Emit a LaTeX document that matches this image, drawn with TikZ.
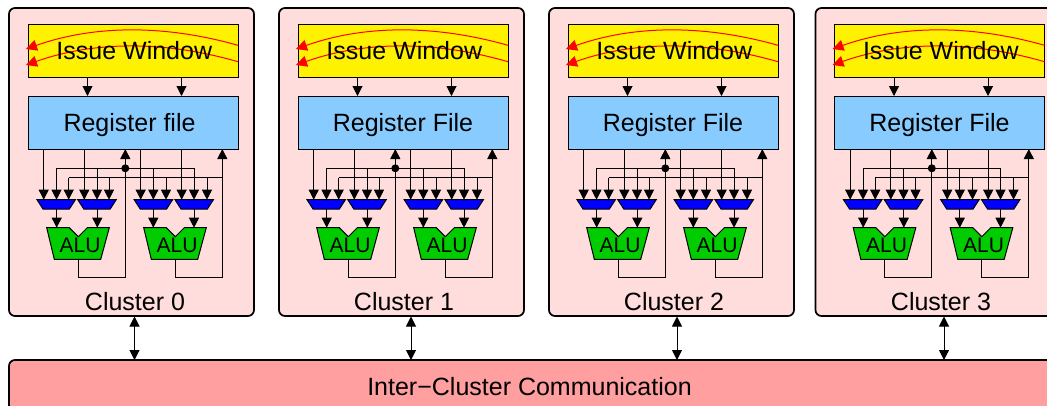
\documentclass[tikz,border=0pt]{standalone}
\usepackage{fontspec}
\setmainfont{Liberation Sans}
\usetikzlibrary{arrows.meta}
\definecolor{clusterfill}{HTML}{FFDDDD}
\definecolor{commfill}{HTML}{FF9F9F}
\definecolor{regfill}{HTML}{88CCFF}
\definecolor{alufill}{HTML}{00CC00}
\tikzset{
  box/.style={draw=black,line width=1pt,anchor=north west,inner sep=0pt,outer sep=0pt},
  group/.style={box,draw=black,line width=1.7pt,rounded corners=6pt},
  lab/.style={anchor=base,inner sep=0pt,font=\fontsize{25}{30}\selectfont},
  alulab/.style={anchor=base,inner sep=0pt,font=\fontsize{21}{25}\selectfont},
  wire/.style={draw=black,line width=1pt},
  arr/.style={wire,-{Triangle[length=10pt,width=10pt]}},
  dbl/.style={wire,{Triangle[length=10pt,width=10pt]}-{Triangle[length=10pt,width=10pt]}},
  redarr/.style={draw=red,line width=1pt,-{Triangle[length=11pt,width=11pt]}},
  muxbody/.style={draw=black,line width=1pt,fill=blue},
  alubody/.style={draw=black,line width=1pt,fill=alufill},
  dotmark/.style={circle,fill=black,inner sep=0pt,minimum size=8pt,outer sep=0pt}
}
% #1 x offset, #2 register-file text, #3 cluster number, #4 register text x, #5 cluster label x
\newcommand{\clusterunit}[5]{
\begin{scope}[shift={(#1,0)}]
  \node[group,fill=clusterfill,minimum width=245pt,minimum height=308pt] (c#3) at (9,8) {};
  \node[lab] (cl#3) at (#5,310) {Cluster #3};
  \node[box,fill=yellow,minimum width=210pt,minimum height=53pt] (iw#3) at (28,24) {};
  \node[box,fill=regfill,minimum width=210pt,minimum height=53pt] (rf#3) at (28,96) {};
  \node[lab] (rl#3) at (#4,131) {#2};
  % red wake-up lines
  \coordinate (ra#3) at (238,45.3); \coordinate (rb#3) at (26,49);
  \coordinate (rc#3) at (238,61.7); \coordinate (rd#3) at (26,65);
  \draw[redarr] (ra#3) .. controls (165,24.7) and (95,24.7) .. (rb#3);
  \draw[redarr] (rc#3) .. controls (165,40.7) and (95,40.7) .. (rd#3);
  \node[lab] (il#3) at (134.3,59.3) {Issue Window};
  % window to register file
  \foreach \xx/\i in {87.5/a,181.5/b}{
    \coordinate (w\i#3) at (\xx,77); \coordinate (v\i#3) at (\xx,96);
    \draw[arr] (w\i#3) -- (v\i#3);
  }
  % muxes
  \foreach \cx in {56.2,97,153.4,194.2}{
    \draw[muxbody] (\cx-19.2,199.7) -- (\cx+19.2,199.7) -- (\cx+13.2,209) -- (\cx-13.2,209) -- cycle;
  }
  % ALUs
  \coordinate (a1t#3) at (78.3,259.3);
  \coordinate (a2t#3) at (175.3,259.3);
  \foreach \dx/\n in {0/1,97/2}{
    \begin{scope}[shift={(\dx,0)}]
      \draw[alubody] (46.7,227.7) -- (69.3,227.7) -- (78.3,236.7) -- (87.3,227.7) -- (109.3,227.7)
        -- (100.7,259.3) -- (54.3,259.3) -- cycle;
      \node[alulab] (al\n#3) at (80,252.3) {ALU};
    \end{scope}
  }
  % buses
  \coordinate (b1l#3) at (56.5,168.3); \coordinate (b1r#3) at (194,168.3);
  \coordinate (b2l#3) at (68.7,177.7); \coordinate (b2r#3) at (222.3,177.7);
  \draw[wire] (b1l#3) -- (b1r#3);
  \draw[wire] (b2l#3) -- (b2r#3);
  % register read ports into muxes
  \foreach \xx/\i in {43.7/a,84.3/b,140.7/c,181.7/d}{
    \coordinate (p\i#3) at (\xx,149); \coordinate (q\i#3) at (\xx,199.7);
    \draw[arr] (p\i#3) -- (q\i#3);
  }
  % bypass from bus 1
  \foreach \xx/\i in {56.5/a,97/b,153.3/c,194/d}{
    \coordinate (s\i#3) at (\xx,168.3); \coordinate (t\i#3) at (\xx,199.7);
    \draw[arr] (s\i#3) -- (t\i#3);
  }
  % bypass from bus 2
  \foreach \xx/\i in {68.7/a,109/b,166/c,207/d}{
    \coordinate (g\i#3) at (\xx,177.7); \coordinate (h\i#3) at (\xx,199.7);
    \draw[arr] (g\i#3) -- (h\i#3);
  }
  % mux to ALU
  \foreach \xx/\i in {56.7/a,97.3/b,153.3/c,194/d}{
    \coordinate (x\i#3) at (\xx,209); \coordinate (y\i#3) at (\xx,227.7);
    \draw[arr] (x\i#3) -- (y\i#3);
  }
  % write-back
  \coordinate (k1#3) at (125.3,149); \coordinate (k2#3) at (222.3,149);
  \coordinate (l1#3) at (78.3,277.7); \coordinate (l2#3) at (175.3,277.7);
  \coordinate (n1#3) at (125.3,277.7); \coordinate (n2#3) at (222.3,277.7);
  \draw[arr] (a1t#3) -- (l1#3) -- (n1#3) -- (k1#3);
  \draw[arr] (a2t#3) -- (l2#3) -- (n2#3) -- (k2#3);
  \node[dotmark] (dot#3) at (125.3,168.3) {};
\end{scope}
}
\begin{document}
\begin{tikzpicture}[x=1pt,y=-1pt]
  \useasboundingbox (0,0) rectangle (1047,405);
  \clip (0,0) rectangle (1047,405);
  \clusterunit{0}{Register file}{0}{129.5}{135}
  \clusterunit{270}{Register File}{1}{133}{134}
  \clusterunit{540}{Register File}{2}{133}{134}
  \clusterunit{806.5}{Register File}{3}{133}{134.5}
  \node[group,fill=commfill,minimum width=1060pt,minimum height=52pt] (comm) at (9,360) {};
  \node[lab] (commlab) at (529.5,395) {Inter−Cluster Communication};
  \foreach \xx/\n in {134.5/0,411/1,677/2,944/3}{
    \coordinate (up\n) at (\xx,316.5); \coordinate (dn\n) at (\xx,360);
    \draw[dbl] (up\n) -- (dn\n);
  }
\end{tikzpicture}
\end{document}
